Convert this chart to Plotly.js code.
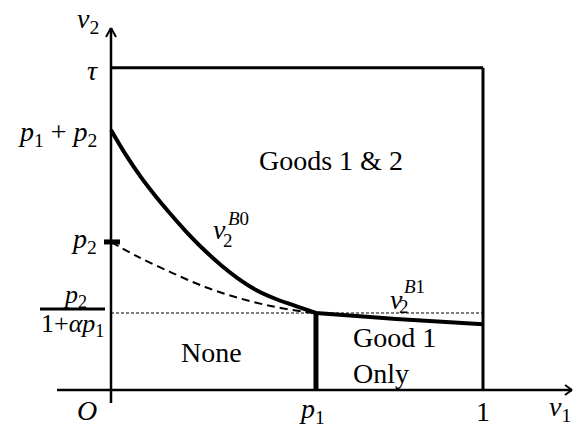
<!DOCTYPE html>
<html>
<head>
<meta charset="utf-8">
<script src="https://cdn.plot.ly/plotly-3.0.1.min.js"></script>
<style>html,body{margin:0;padding:0;background:#fff}</style>
</head>
<body>
<div id="chart" style="width:573px;height:430px"></div>
<script>
// Key levels in the (v1, v2) valuation square
const p1 = 0.551;
const p2 = 0.398;
const tau = 0.866;
const p1PlusP2 = 0.699;
const v2Cut = 0.207;          // p2 / (1 + αp1)

// Boundary v2^B0 (solid), from (0, p1+p2) down to (p1, cut)
const b0V1 = [0, 0.04, 0.08, 0.12, 0.16, 0.20, 0.25, 0.30, 0.34, 0.39, 0.44, 0.49, p1];
const b0V2 = [p1PlusP2, 0.632, 0.573, 0.521, 0.473, 0.428, 0.377, 0.332, 0.301, 0.269, 0.246, 0.228, v2Cut];

// Dashed boundary starting at p2
const dashV1 = [0, 0.073, 0.164, 0.253, 0.341, 0.433, 0.522, p1];
const dashV2 = [p2, 0.358, 0.315, 0.277, 0.248, 0.225, 0.210, v2Cut];

// Boundary v2^B1 for v1 between p1 and 1
const b1V1 = [p1, 0.723, 0.812, 1.0];
const b1V2 = [v2Cut, 0.194, 0.188, 0.177];

// Region names
const regionNames = ['Goods 1 &amp; 2', 'None', 'Good 1<br>Only'];

// one pixel in data units (both axes share the same scale)
const PX = 1 / 372;
const xMin = -111 * PX, xMax = 462 * PX;
const yMin = -40 * PX, yMax = 390 * PX;

const black = '#000';
const serif = 'Liberation Serif, Times New Roman, serif';

function seg(x0, y0, x1, y1, w, dash) {
  return {type: 'line', xref: 'x', yref: 'y', x0, y0, x1, y1,
          line: {color: black, width: w, dash: dash || 'solid'}};
}

// axis extents
const xAxisStart = -54 * PX, xAxisEnd = 461 * PX;
const yAxisStart = -13 * PX, yAxisEnd = 362 * PX;

const shapes = [
  // axes
  seg(xAxisStart, 0, xAxisEnd, 0, 2.5),
  seg(0, yAxisStart, 0, yAxisEnd, 2.5),
  // arrow heads
  seg(xAxisEnd, 0, xAxisEnd - 7 * PX, 5 * PX, 2),
  seg(xAxisEnd, 0, xAxisEnd - 7 * PX, -5 * PX, 2),
  seg(0, yAxisEnd, -5 * PX, yAxisEnd - 9 * PX, 2),
  seg(0, yAxisEnd, 5 * PX, yAxisEnd - 9 * PX, 2),
  // square: top at tau, right side at v1 = 1
  seg(0, tau, 1, tau, 3),
  seg(1, 0, 1, tau, 3),
  // thick divider at p1
  seg(p1, 0, p1, v2Cut, 5),
  // thin dashed cut level
  seg(0, v2Cut, 1, v2Cut, 1, '3px,2px'),
  // tick at p2
  seg(-7 * PX, p2, 9 * PX, p2, 5),
  // fraction bar of the cut label
  seg(-71 * PX, v2Cut + 4 * PX, -6 * PX, v2Cut + 4 * PX, 3)
];

const traces = [
  {x: dashV1, y: dashV2, mode: 'lines', line: {color: black, width: 2, dash: '8px,5px', shape: 'spline'}, hoverinfo: 'skip'},
  {x: b0V1, y: b0V2, mode: 'lines', line: {color: black, width: 4, shape: 'spline'}, hoverinfo: 'skip'},
  {x: b1V1, y: b1V2, mode: 'lines', line: {color: black, width: 4, shape: 'spline'}, hoverinfo: 'skip'}
];

function label(text, x, y, size, opts) {
  return Object.assign({text, x, y, xref: 'x', yref: 'y', showarrow: false,
    font: {family: serif, size, color: black}, xanchor: 'center', yanchor: 'middle'}, opts || {});
}

const annotations = [
  // region names
  label(regionNames[0], 0.591, 0.618, 28),
  label(regionNames[1], 0.271, 0.102, 28),
  label(regionNames[2], 0.646, 0.093, 28, {xanchor: 'left', align: 'left'}),
  // axis names
  label('<i>v</i><sub>2</sub>', -23 * PX, 370 * PX, 28),
  label('<i>v</i><sub>1</sub>', 449 * PX, -18 * PX, 28),
  // tick symbols on v2
  label('<i>τ</i>', -11 * PX, tau - 3 * PX, 28, {xanchor: 'right'}),
  label('<i>p</i><sub>1</sub> + <i>p</i><sub>2</sub>', -12 * PX, p1PlusP2 - 4 * PX, 28, {xanchor: 'right'}),
  label('<i>p</i><sub>2</sub>', -12 * PX, p2 + 1 * PX, 28, {xanchor: 'right'}),
  label('<i>p</i><sub>2</sub>', -36 * PX, v2Cut + 17 * PX, 26),
  label('1+<i>αp</i><sub>1</sub>', -39 * PX, v2Cut - 12 * PX, 26),
  // tick symbols on v1
  label('<i>O</i>', -24 * PX, -20 * PX, 28),
  label('<i>p</i><sub>1</sub>', p1 - 4 * PX, -20 * PX, 28),
  label('1', 1, -21 * PX, 28),
  // curve names v2^B0 and v2^B1
  label('<i>v</i>', 108 * PX, 161 * PX, 28),
  label('2', 117 * PX, 150 * PX, 19),
  label('<i>B</i>0', 127 * PX, 172 * PX, 19),
  label('<i>v</i>', 285 * PX, 91 * PX, 28),
  label('2', 293 * PX, 84 * PX, 19),
  label('<i>B</i>1', 303 * PX, 104 * PX, 19)
];

const layout = {
  width: 573, height: 430,
  margin: {l: 0, r: 0, t: 0, b: 0},
  paper_bgcolor: '#fff', plot_bgcolor: '#fff',
  showlegend: false,
  xaxis: {range: [xMin, xMax], visible: false, fixedrange: true},
  yaxis: {range: [yMin, yMax], visible: false, fixedrange: true},
  shapes, annotations
};

Plotly.newPlot('chart', traces, layout, {staticPlot: true, displayModeBar: false});
</script>
</body>
</html>
